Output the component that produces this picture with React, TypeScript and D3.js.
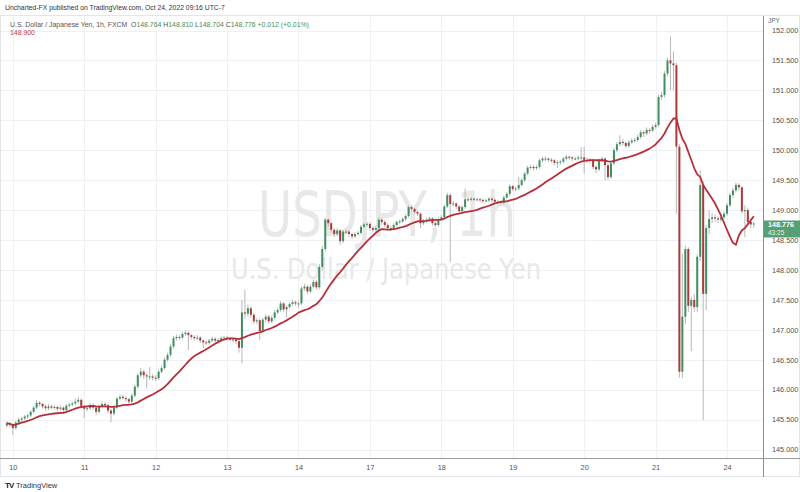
import React, { useEffect, useRef } from "react";
import * as d3 from "d3";

// one bar per hour: [open, high, low, close]
type Bar = [number, number, number, number];

const oct9: Bar[] = [
  [145.40, 145.47, 145.37, 145.44], [145.44, 145.46, 145.38, 145.42],
];
const oct10: Bar[] = [
  [145.42, 145.44, 145.24, 145.36], [145.36, 145.48, 145.33, 145.45], [145.45, 145.53, 145.42, 145.50],
  [145.50, 145.55, 145.46, 145.52], [145.52, 145.58, 145.49, 145.55], [145.55, 145.60, 145.51, 145.57],
  [145.57, 145.66, 145.54, 145.63], [145.63, 145.73, 145.60, 145.70], [145.70, 145.83, 145.67, 145.78],
  [145.78, 145.81, 145.72, 145.76], [145.76, 145.78, 145.68, 145.72], [145.72, 145.75, 145.65, 145.69],
  [145.69, 145.76, 145.66, 145.72], [145.72, 145.75, 145.67, 145.70], [145.70, 145.74, 145.67, 145.71],
  [145.71, 145.73, 145.64, 145.68], [145.68, 145.74, 145.65, 145.70], [145.70, 145.72, 145.60, 145.66],
  [145.66, 145.76, 145.63, 145.73], [145.73, 145.78, 145.70, 145.75], [145.75, 145.80, 145.72, 145.77],
  [145.77, 145.85, 145.74, 145.80], [145.80, 145.88, 145.77, 145.83], [145.83, 145.85, 145.69, 145.72],
];
const oct11: Bar[] = [
  [145.72, 145.75, 145.52, 145.68], [145.68, 145.73, 145.64, 145.69], [145.69, 145.78, 145.66, 145.74],
  [145.74, 145.77, 145.66, 145.70], [145.70, 145.72, 145.57, 145.63], [145.63, 145.75, 145.60, 145.72],
  [145.72, 145.80, 145.69, 145.76], [145.76, 145.79, 145.70, 145.74], [145.74, 145.76, 145.61, 145.65],
  [145.65, 145.68, 145.45, 145.60], [145.60, 145.74, 145.57, 145.70], [145.70, 145.88, 145.67, 145.85],
  [145.85, 145.92, 145.82, 145.88], [145.88, 145.91, 145.83, 145.86], [145.86, 145.89, 145.80, 145.84],
  [145.84, 145.86, 145.76, 145.80], [145.80, 145.94, 145.77, 145.90], [145.90, 146.08, 145.87, 146.05],
  [146.05, 146.27, 146.02, 146.24], [146.24, 146.36, 146.20, 146.30], [146.30, 146.33, 146.18, 146.24],
  [146.24, 146.28, 146.02, 146.22], [146.22, 146.38, 146.16, 146.22], [146.22, 146.26, 146.15, 146.20],
];
const oct12: Bar[] = [
  [146.20, 146.24, 146.14, 146.19], [146.19, 146.33, 146.16, 146.30], [146.30, 146.40, 146.27, 146.36],
  [146.36, 146.54, 146.33, 146.50], [146.50, 146.62, 146.47, 146.58], [146.58, 146.76, 146.55, 146.72],
  [146.72, 146.90, 146.69, 146.86], [146.86, 146.92, 146.82, 146.88], [146.88, 146.91, 146.83, 146.87],
  [146.87, 146.97, 146.84, 146.93], [146.93, 146.99, 146.90, 146.95], [146.95, 146.97, 146.66, 146.91],
  [146.91, 146.93, 146.84, 146.88], [146.88, 146.91, 146.82, 146.86], [146.86, 146.91, 146.83, 146.87],
  [146.87, 146.89, 146.78, 146.82], [146.82, 146.84, 146.69, 146.79], [146.79, 146.82, 146.74, 146.78],
  [146.78, 146.85, 146.75, 146.82], [146.82, 146.88, 146.79, 146.85], [146.85, 146.87, 146.78, 146.82],
  [146.82, 146.86, 146.79, 146.83], [146.83, 146.89, 146.80, 146.86], [146.86, 146.90, 146.83, 146.87],
];
const oct13: Bar[] = [
  [146.87, 146.89, 146.81, 146.85], [146.85, 146.88, 146.81, 146.84], [146.84, 146.87, 146.80, 146.84],
  [146.84, 146.86, 146.76, 146.81], [146.81, 146.83, 146.62, 146.70], [146.70, 147.50, 146.44, 147.29],
  [147.29, 147.67, 147.18, 147.27], [147.27, 147.42, 147.22, 147.36], [147.36, 147.39, 147.20, 147.25],
  [147.25, 147.28, 147.10, 147.14], [147.14, 147.20, 147.09, 147.16], [147.16, 147.19, 146.83, 146.98],
  [146.98, 147.20, 146.95, 147.17], [147.17, 147.26, 147.13, 147.22], [147.22, 147.25, 147.10, 147.14],
  [147.14, 147.24, 147.11, 147.20], [147.20, 147.33, 147.17, 147.29], [147.29, 147.37, 147.26, 147.33],
  [147.33, 147.48, 147.30, 147.44], [147.44, 147.46, 147.30, 147.34], [147.34, 147.41, 147.20, 147.38],
  [147.38, 147.46, 147.35, 147.43], [147.43, 147.50, 147.40, 147.46], [147.46, 147.49, 147.40, 147.44],
];
const oct14: Bar[] = [
  [147.44, 147.48, 147.38, 147.44], [147.44, 147.73, 147.41, 147.69], [147.69, 147.77, 147.65, 147.72],
  [147.72, 147.75, 147.60, 147.64], [147.64, 147.76, 147.61, 147.72], [147.72, 147.84, 147.69, 147.80],
  [147.80, 147.83, 147.67, 147.71], [147.71, 148.10, 147.68, 148.05], [148.05, 148.40, 148.00, 148.35],
  [148.35, 148.87, 148.31, 148.84], [148.84, 148.86, 148.72, 148.78], [148.78, 148.80, 148.62, 148.67],
  [148.67, 148.70, 148.55, 148.60], [148.60, 148.70, 148.57, 148.66],
];
const oct16: Bar[] = [
  [148.66, 148.68, 148.42, 148.48], [148.48, 148.67, 148.45, 148.64], [148.64, 148.68, 148.60, 148.64],
  [148.64, 148.66, 148.56, 148.60], [148.60, 148.62, 148.52, 148.56], [148.56, 148.63, 148.53, 148.60],
  [148.60, 148.65, 148.57, 148.62], [148.62, 148.75, 148.59, 148.72], [148.72, 148.79, 148.69, 148.76],
  [148.76, 148.80, 148.72, 148.77],
];
const oct17: Bar[] = [
  [148.77, 148.79, 148.66, 148.70], [148.70, 148.73, 148.63, 148.67], [148.67, 148.74, 148.64, 148.70],
  [148.70, 148.88, 148.67, 148.84], [148.84, 148.87, 148.76, 148.80], [148.80, 148.83, 148.71, 148.75],
  [148.75, 148.78, 148.66, 148.70], [148.70, 148.74, 148.65, 148.70], [148.70, 148.78, 148.67, 148.75],
  [148.75, 148.83, 148.72, 148.80], [148.80, 148.84, 148.77, 148.81], [148.81, 148.88, 148.78, 148.85],
  [148.85, 148.93, 148.82, 148.90], [148.90, 149.08, 148.87, 149.05], [149.05, 149.08, 148.98, 149.02],
  [149.02, 149.04, 148.93, 148.97], [148.97, 148.99, 148.90, 148.94], [148.94, 148.96, 148.70, 148.78],
  [148.78, 148.85, 148.75, 148.82], [148.82, 148.87, 148.79, 148.84], [148.84, 148.89, 148.81, 148.86],
  [148.86, 148.88, 148.74, 148.78], [148.78, 148.81, 148.71, 148.75], [148.75, 148.88, 148.72, 148.85],
];
const oct18: Bar[] = [
  [148.85, 148.92, 148.82, 148.88], [148.88, 149.09, 148.85, 149.06], [149.06, 149.29, 149.03, 149.25],
  [149.25, 149.28, 148.13, 149.10], [149.10, 149.15, 149.06, 149.11], [149.11, 149.13, 149.02, 149.06],
  [149.06, 149.08, 148.94, 148.98], [148.98, 149.08, 148.95, 149.05], [149.05, 149.36, 149.02, 149.18],
  [149.18, 149.22, 149.14, 149.17], [149.17, 149.22, 149.15, 149.19], [149.19, 149.21, 149.15, 149.18],
  [149.18, 149.21, 149.15, 149.18], [149.18, 149.20, 149.14, 149.17], [149.17, 149.19, 149.12, 149.15],
  [149.15, 149.19, 149.13, 149.16], [149.16, 149.22, 149.14, 149.19], [149.19, 149.21, 149.14, 149.17],
  [149.17, 149.19, 149.11, 149.14], [149.14, 149.17, 149.11, 149.14], [149.14, 149.16, 149.09, 149.12],
  [149.12, 149.24, 149.10, 149.21], [149.21, 149.30, 149.18, 149.27], [149.27, 149.43, 149.24, 149.40],
];
const oct19: Bar[] = [
  [149.40, 149.42, 149.32, 149.35], [149.35, 149.39, 149.31, 149.36], [149.36, 149.55, 149.33, 149.42],
  [149.42, 149.53, 149.39, 149.50], [149.50, 149.64, 149.47, 149.61], [149.61, 149.74, 149.58, 149.71],
  [149.71, 149.76, 149.68, 149.72], [149.72, 149.75, 149.66, 149.70], [149.70, 149.75, 149.67, 149.72],
  [149.72, 149.86, 149.69, 149.83], [149.83, 149.89, 149.80, 149.86], [149.86, 149.90, 149.82, 149.86],
  [149.86, 149.88, 149.80, 149.84], [149.84, 149.87, 149.79, 149.83], [149.83, 149.85, 149.75, 149.79],
  [149.79, 149.83, 149.70, 149.80], [149.80, 149.84, 149.76, 149.81], [149.81, 149.89, 149.78, 149.86],
  [149.86, 149.92, 149.83, 149.89], [149.89, 149.91, 149.84, 149.88], [149.88, 149.90, 149.82, 149.86],
  [149.86, 149.89, 149.83, 149.86], [149.86, 149.91, 149.83, 149.88], [149.88, 150.05, 149.84, 149.88],
];
const oct20: Bar[] = [
  [149.88, 150.06, 149.61, 149.84], [149.84, 149.88, 149.79, 149.84], [149.84, 149.87, 149.78, 149.84],
  [149.84, 149.86, 149.68, 149.72], [149.72, 149.75, 149.62, 149.68], [149.68, 149.86, 149.65, 149.83],
  [149.83, 149.89, 149.80, 149.86], [149.86, 149.88, 149.50, 149.75], [149.75, 149.78, 149.50, 149.55],
  [149.55, 149.81, 149.52, 149.78], [149.78, 150.04, 149.75, 150.00], [150.00, 150.14, 149.97, 150.10],
  [150.10, 150.25, 150.07, 150.14], [150.14, 150.19, 150.08, 150.12], [150.12, 150.15, 150.03, 150.07],
  [150.07, 150.17, 150.04, 150.13], [150.13, 150.20, 150.10, 150.16], [150.16, 150.21, 150.12, 150.17],
  [150.17, 150.26, 150.14, 150.22], [150.22, 150.34, 150.19, 150.30], [150.30, 150.33, 150.22, 150.28],
  [150.28, 150.38, 150.25, 150.34], [150.34, 150.37, 150.28, 150.33], [150.33, 150.43, 150.30, 150.39],
];
const oct21: Bar[] = [
  [150.39, 150.46, 150.36, 150.42], [150.42, 150.93, 150.39, 150.89], [150.89, 150.97, 150.84, 150.92],
  [150.92, 151.32, 150.88, 151.28], [151.28, 151.55, 151.24, 151.50], [151.50, 151.90, 151.00, 151.45],
  [151.45, 151.65, 151.00, 151.42], [151.42, 151.46, 148.94, 150.06], [150.06, 150.10, 146.20, 146.30],
  [146.30, 148.27, 146.19, 147.22], [147.22, 148.40, 147.10, 148.35], [148.35, 148.38, 147.30, 147.40],
  [147.40, 147.55, 146.64, 147.50], [147.50, 147.60, 147.30, 147.38],
];
const oct23: Bar[] = [
  [147.38, 148.26, 147.30, 148.22], [148.22, 149.66, 148.15, 149.42], [149.42, 149.48, 145.49, 147.60],
  [147.60, 148.75, 147.33, 148.70], [148.70, 149.00, 148.60, 148.85], [148.85, 148.95, 148.78, 148.88],
  [148.88, 148.93, 148.80, 148.86], [148.86, 148.90, 148.78, 148.84], [148.84, 148.92, 148.80, 148.88],
  [148.88, 148.98, 148.84, 148.94],
];
const oct24: Bar[] = [
  [148.94, 149.12, 148.90, 149.08], [149.08, 149.29, 149.05, 149.25], [149.25, 149.37, 149.20, 149.33],
  [149.33, 149.46, 149.29, 149.42], [149.42, 149.45, 149.33, 149.38], [149.38, 149.40, 148.94, 148.98],
  [148.98, 149.08, 148.55, 149.00], [149.00, 149.04, 148.76, 148.80], [148.80, 148.86, 148.70, 148.76],
  [148.764, 148.81, 148.704, 148.776],
];

const sessions: Bar[][] = [oct9, oct10, oct11, oct12, oct13, oct14, oct16, oct17, oct18, oct19, oct20, oct21, oct23, oct24];

// day labels on the time axis and the bar index where each day starts
const dayLabels = ["10", "11", "12", "13", "14", "17", "18", "19", "20", "21", "24"];
const dayStarts = [2, 26, 50, 74, 98, 122, 146, 170, 194, 218, 242];

const priceTicks = [145, 145.5, 146, 146.5, 147, 147.5, 148, 148.5, 149, 149.5, 150, 150.5, 151, 151.5, 152];

const maPeriod = 20;

const W = 800, H = 492;
const plotRight = 763;
const axisY = 458;
const upColor = "#3f8f60";
const downColor = "#a93a3c";
const font = "'Liberation Sans', Arial, sans-serif";

export default function App() {
  const ref = useRef<SVGSVGElement>(null);

  useEffect(() => {
    document.body.style.margin = "0";
    const svg = d3.select(ref.current);
    svg.selectAll("*").remove();
    draw(svg);
  }, []);

  return <svg ref={ref} width={W} height={H} style={{ display: "block" }} />;
}

function draw(svg: any) {
  const bars = sessions.flat();
  const closes = bars.map(d => d[3]);
  const ma = closes.map((_, i) => d3.mean(closes.slice(Math.max(0, i - maPeriod + 1), i + 1)) as number);

  const x = d3.scaleLinear().domain([2, 242]).range([12.8, 727]);
  const y = d3.scaleLinear().domain([145, 152]).range([449.5, 30.5]);

  svg.append("rect").attr("width", W).attr("height", H).attr("fill", "#fff");

  // grid
  const grid = svg.append("g").attr("stroke", "#eef0f5").attr("stroke-width", 1);
  grid.append("g").selectAll("line").data(priceTicks).join("line")
    .attr("x1", 0).attr("x2", plotRight)
    .attr("y1", (d: number) => Math.round(y(d)) + 0.5)
    .attr("y2", (d: number) => Math.round(y(d)) + 0.5);
  grid.append("g").selectAll("line").data(dayStarts).join("line")
    .attr("x1", (d: number) => Math.round(x(d)) + 0.5)
    .attr("x2", (d: number) => Math.round(x(d)) + 0.5)
    .attr("y1", 16).attr("y2", axisY);

  // watermark
  svg.append("text")
    .attr("x", 387).attr("y", 236)
    .attr("text-anchor", "middle")
    .attr("font-family", "'DejaVu Sans', sans-serif")
    .attr("font-size", 62)
    .attr("textLength", 258).attr("lengthAdjust", "spacingAndGlyphs")
    .attr("fill", "#e8e8e8")
    .text("USDJPY, 1h");
  svg.append("text")
    .attr("x", 386).attr("y", 279)
    .attr("text-anchor", "middle")
    .attr("font-family", "'DejaVu Sans', sans-serif")
    .attr("font-size", 29)
    .attr("textLength", 310).attr("lengthAdjust", "spacingAndGlyphs")
    .attr("fill", "#e8e8e8")
    .text("U.S. Dollar / Japanese Yen");

  // candles
  const cg = svg.append("g");
  cg.append("g").selectAll("line").data(bars).join("line")
    .attr("x1", (d: Bar, i: number) => x(i)).attr("x2", (d: Bar, i: number) => x(i))
    .attr("y1", (d: Bar) => y(d[1])).attr("y2", (d: Bar) => y(d[2]))
    .attr("stroke", "#b8b8b8").attr("stroke-width", 1);
  cg.append("g").selectAll("rect").data(bars).join("rect")
    .attr("x", (d: Bar, i: number) => x(i) - 1)
    .attr("width", 2)
    .attr("y", (d: Bar) => y(Math.max(d[0], d[3])))
    .attr("height", (d: Bar) => Math.max(1, Math.abs(y(d[0]) - y(d[3]))))
    .attr("fill", (d: Bar) => (d[3] >= d[0] ? upColor : downColor));

  // moving average
  const line = d3.line<number>().x((d, i) => x(i)).y(d => y(d));
  svg.append("path").datum(ma)
    .attr("d", line)
    .attr("fill", "none")
    .attr("stroke", "#b5303a")
    .attr("stroke-width", 1.8)
    .attr("stroke-linejoin", "round");

  // frame + axis lines
  svg.append("rect").attr("x", 0.5).attr("y", 15.5).attr("width", W - 1).attr("height", 461)
    .attr("fill", "none").attr("stroke", "#e3e5ea");
  svg.append("line").attr("x1", 0).attr("x2", W).attr("y1", axisY + 0.5).attr("y2", axisY + 0.5)
    .attr("stroke", "#9a9a9a");
  svg.append("line").attr("x1", plotRight + 0.5).attr("x2", plotRight + 0.5).attr("y1", 16).attr("y2", 477)
    .attr("stroke", "#8c8c8c");

  // price axis
  const yAxis = svg.append("g")
    .attr("transform", `translate(${plotRight + 6},0)`)
    .call(d3.axisRight(y).tickValues(priceTicks).tickFormat(d3.format(".3f")).tickSize(0));
  yAxis.select(".domain").remove();
  yAxis.selectAll("text").attr("font-family", font).attr("font-size", 7.3).attr("fill", "#555").attr("dy", "0.32em");

  // time axis
  const xAxis = svg.append("g")
    .attr("transform", `translate(0,${axisY + 4})`)
    .call(d3.axisBottom(x).tickValues(dayStarts).tickFormat((d: any, i: number) => dayLabels[i]).tickSize(0));
  xAxis.select(".domain").remove();
  xAxis.selectAll("text").attr("font-family", font).attr("font-size", 7.3).attr("fill", "#555");

  svg.append("text").attr("x", 768).attr("y", 23).attr("font-family", font).attr("font-size", 6.5)
    .attr("fill", "#666").text("JPY");

  // last price tag
  const last = bars[bars.length - 1];
  const ly = y(last[3]);
  svg.append("rect").attr("x", plotRight + 1).attr("y", ly - 3).attr("width", W - plotRight - 1).attr("height", 17)
    .attr("fill", "#55a074");
  svg.append("text").attr("x", plotRight + 5).attr("y", ly + 4).attr("font-family", font).attr("font-size", 7.2)
    .attr("font-weight", "bold").attr("fill", "#fff").text(d3.format(".3f")(last[3]));
  svg.append("text").attr("x", plotRight + 5).attr("y", ly + 11.5).attr("font-family", font).attr("font-size", 6.5)
    .attr("fill", "#e8f3ec").text("43:25");

  // header
  svg.append("text").attr("x", 5).attr("y", 10).attr("font-family", font).attr("font-size", 6.8)
    .attr("fill", "#333").text("Uncharted-FX published on TradingView.com, Oct 24, 2022 09:16 UTC-7");

  const legend = svg.append("text").attr("x", 10).attr("y", 26.5).attr("font-family", font).attr("font-size", 6.9)
    .attr("xml:space", "preserve");
  legend.append("tspan").attr("fill", "#555").text("U.S. Dollar / Japanese Yen, 1h, FXCM ");
  const ohlc = [["O", last[0]], ["H", last[1]], ["L", last[2]], ["C", last[3]]];
  ohlc.forEach(([k, v]) => {
    legend.append("tspan").attr("fill", "#555").text(" " + (k as string));
    legend.append("tspan").attr("fill", "#3f8f60").text(d3.format(".3f")(v as number));
  });
  legend.append("tspan").attr("fill", "#3f8f60").text(" +0.012 (+0.01%)");

  svg.append("text").attr("x", 10).attr("y", 34.5).attr("font-family", font).attr("font-size", 6.9)
    .attr("fill", "#c0393b").text("148.900");

  // footer logo
  svg.append("text").attr("x", 5).attr("y", 488).attr("font-family", font).attr("font-size", 8)
    .attr("font-weight", "bold").attr("fill", "#222").attr("letter-spacing", -0.8).text("TV");
  svg.append("text").attr("x", 16).attr("y", 488).attr("font-family", font).attr("font-size", 7.5)
    .attr("fill", "#333").text("TradingView");
}
